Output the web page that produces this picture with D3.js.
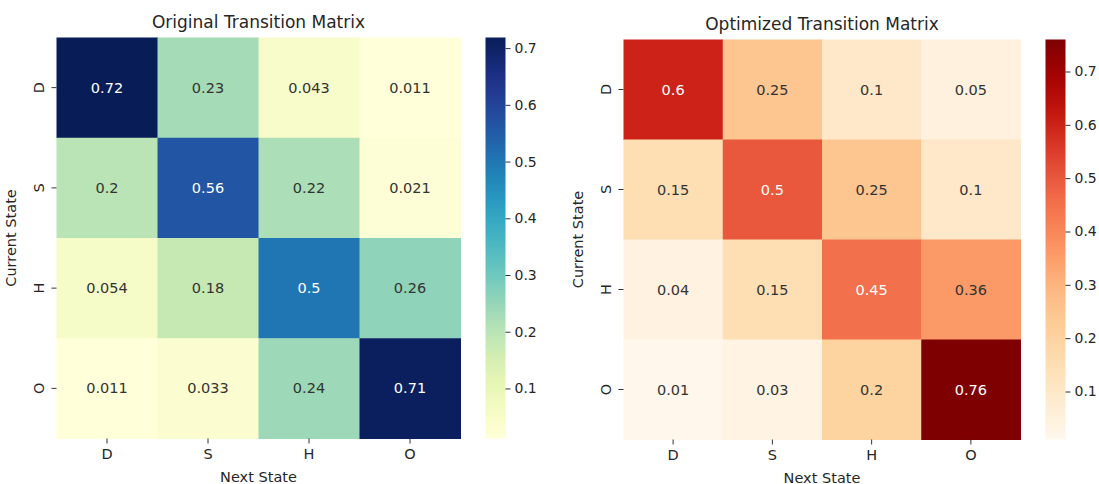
<!DOCTYPE html>
<html>
<head>
<meta charset="utf-8">
<script src="https://cdn.jsdelivr.net/npm/d3@7"></script>
<style>
  body { margin: 0; background: #fff; }
  text { font-family: "DejaVu Sans", sans-serif; }
</style>
</head>
<body>
<div id="chart"></div>
<script>
const states = ["D", "S", "H", "O"];

const originalValues = [
  [0.72, 0.23, 0.043, 0.011],
  [0.2, 0.56, 0.22, 0.021],
  [0.054, 0.18, 0.5, 0.26],
  [0.011, 0.033, 0.24, 0.71]
];

const optimizedValues = [
  [0.6, 0.25, 0.1, 0.05],
  [0.15, 0.5, 0.25, 0.1],
  [0.04, 0.15, 0.45, 0.36],
  [0.01, 0.03, 0.2, 0.76]
];

const colorbarTicks = [0.1, 0.2, 0.3, 0.4, 0.5, 0.6, 0.7];

const width = 1099;
const height = 484;

const svg = d3.select("#chart")
  .append("svg")
  .attr("width", width)
  .attr("height", height);

// seaborn picks annotation colour from cell luminance
function luminance(c) {
  const rgb = d3.rgb(c);
  const ch = [rgb.r, rgb.g, rgb.b].map(v => {
    v = v / 255;
    return v <= 0.03928 ? v / 12.92 : Math.pow((v + 0.055) / 1.055, 2.4);
  });
  return 0.2126 * ch[0] + 0.7152 * ch[1] + 0.0722 * ch[2];
}

function drawHeatmap(opts) {
  const { values, title, interp, left, top, w, h, cbarX, vmin, vmax, id } = opts;

  const cells = [];
  values.forEach((row, i) => row.forEach((v, j) => {
    cells.push({ row: states[i], col: states[j], value: v });
  }));

  const x = d3.scaleBand().domain(states).range([left, left + w]);
  const y = d3.scaleBand().domain(states).range([top, top + h]);
  const color = d3.scaleSequential(interp).domain([vmin, vmax]);

  const g = svg.append("g");

  g.selectAll("rect.cell")
    .data(cells)
    .enter().append("rect")
    .attr("class", "cell")
    .attr("x", d => x(d.col))
    .attr("y", d => y(d.row))
    .attr("width", x.bandwidth() + 0.5)
    .attr("height", y.bandwidth() + 0.5)
    .attr("fill", d => color(d.value));

  g.selectAll("text.annot")
    .data(cells)
    .enter().append("text")
    .attr("class", "annot")
    .attr("x", d => x(d.col) + x.bandwidth() / 2)
    .attr("y", d => y(d.row) + y.bandwidth() / 2)
    .attr("text-anchor", "middle")
    .attr("dominant-baseline", "central")
    .attr("font-size", 14.5)
    .attr("fill", d => luminance(color(d.value)) > 0.408 ? "#333333" : "#ffffff")
    .text(d => d.value);

  // x axis
  const xAxis = g.append("g")
    .attr("transform", `translate(0, ${top + h})`)
    .call(d3.axisBottom(x).tickSize(5).tickPadding(5));
  xAxis.select(".domain").remove();
  xAxis.selectAll("line").attr("stroke", "#333");
  xAxis.selectAll("text").attr("font-size", 14.5).attr("fill", "#262626")
    .style("font-family", "DejaVu Sans");

  // y axis, labels rotated like matplotlib
  const yAxis = g.append("g")
    .attr("transform", `translate(${left}, 0)`)
    .call(d3.axisLeft(y).tickSize(5).tickPadding(6));
  yAxis.select(".domain").remove();
  yAxis.selectAll("line").attr("stroke", "#333");
  yAxis.selectAll("text")
    .attr("font-size", 14.5).attr("fill", "#262626")
    .style("font-family", "DejaVu Sans")
    .attr("text-anchor", "middle")
    .attr("dy", null)
    .attr("x", -18)
    .attr("transform", "rotate(-90, -18, 0)")
    .attr("dominant-baseline", "central");

  g.append("text")
    .attr("x", left + w / 2)
    .attr("y", top - 10)
    .attr("text-anchor", "middle")
    .attr("font-size", 17)
    .attr("fill", "#262626")
    .text(title);

  g.append("text")
    .attr("x", left + w / 2)
    .attr("y", top + h + 43)
    .attr("text-anchor", "middle")
    .attr("font-size", 14.5)
    .attr("fill", "#262626")
    .text("Next State");

  g.append("text")
    .attr("transform", `translate(${left - 41}, ${top + h / 2}) rotate(-90)`)
    .attr("text-anchor", "middle")
    .attr("font-size", 14.5)
    .attr("fill", "#262626")
    .text("Current State");

  // colorbar
  const cbW = 20;
  const cy = d3.scaleLinear().domain([vmin, vmax]).range([top + h, top]);
  const grad = svg.append("defs").append("linearGradient")
    .attr("id", id)
    .attr("x1", 0).attr("y1", 1).attr("x2", 0).attr("y2", 0);
  d3.range(0, 1.0001, 0.05).forEach(t => {
    grad.append("stop")
      .attr("offset", t)
      .attr("stop-color", interp(t));
  });
  g.append("rect")
    .attr("x", cbarX)
    .attr("y", top)
    .attr("width", cbW)
    .attr("height", h)
    .attr("fill", `url(#${id})`);

  const cAxis = g.append("g")
    .attr("transform", `translate(${cbarX + cbW}, 0)`)
    .call(d3.axisRight(cy).tickValues(colorbarTicks).tickSize(5).tickPadding(4).tickFormat(d3.format(".1f")));
  cAxis.select(".domain").remove();
  cAxis.selectAll("line").attr("stroke", "#333");
  cAxis.selectAll("text").attr("font-size", 14).attr("fill", "#262626")
    .style("font-family", "DejaVu Sans");
}

drawHeatmap({
  id: "gradOrig",
  values: originalValues,
  title: "Original Transition Matrix",
  interp: d3.interpolateYlGnBu,
  left: 56.5, top: 37.5, w: 404, h: 401,
  cbarX: 485.5,
  vmin: 0.0118, vmax: 0.7187
});

drawHeatmap({
  id: "gradOpt",
  values: optimizedValues,
  title: "Optimized Transition Matrix",
  interp: d3.interpolateOrRd,
  left: 623.5, top: 39.5, w: 397, h: 400,
  cbarX: 1045.5,
  vmin: 0.01, vmax: 0.76
});
</script>
</body>
</html>
